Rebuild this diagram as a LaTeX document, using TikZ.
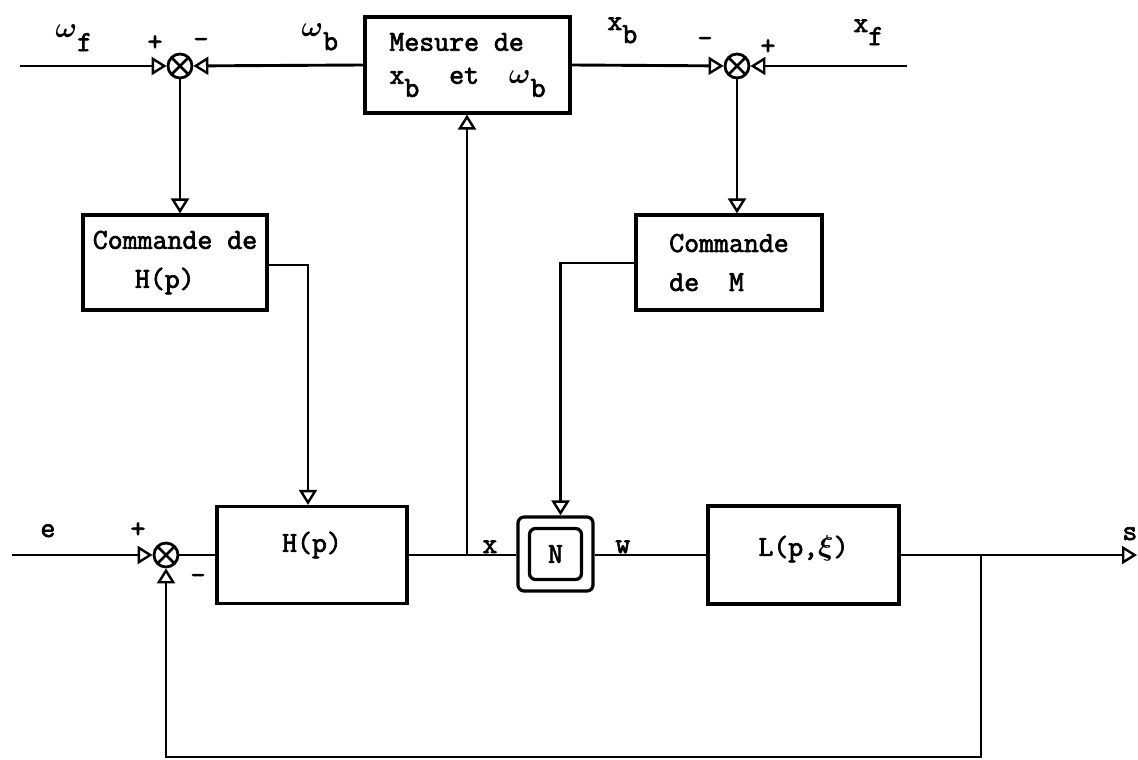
\documentclass[tikz,border=0pt]{standalone}
\usepackage{amsmath}
\usepackage{fontspec}
\newfontfamily\tw{Latin Modern Mono}[FakeBold=2.4]
\usetikzlibrary{arrows.meta,calc}
\newcommand\lo[1]{\raisebox{-0.45em}{#1}}
\newcommand\upby[2]{\raisebox{#1}[\height][\depth]{#2}}
\newcommand\om{\ensuremath{\boldsymbol{\omega}}}
\begin{document}
\begin{tikzpicture}[x=0.5pt,y=-0.5pt,
  font=\fontsize{14.5}{16.5}\selectfont\tw,
  box/.style={draw, line width=1.6pt, inner sep=0pt, align=left},
  ln/.style={line width=1.45pt},
  arr/.style={ln, -{Triangle[open, length=7.5pt, width=9pt, line width=1.2pt]}},
  sumj/.style={circle, draw, line width=1.4pt, minimum size=12pt, inner sep=0pt,
    path picture={\draw[line width=1.3pt]
      (path picture bounding box.south west) -- (path picture bounding box.north east)
      (path picture bounding box.north west) -- (path picture bounding box.south east);}},
  lab/.style={inner sep=0pt, anchor=base west},
  sgn/.style={inner sep=0pt}]
\fill[white] (0,0) rectangle (1138,759);
\useasboundingbox (0,0) rectangle (1138,759);

% top row
\coordinate (wfin) at (20,66);
\coordinate (xfin) at (907,66);
\node[sumj] (sum1) at (180,66) {};
\node[sumj] (sum2) at (737,66) {};
\node[box, minimum width=102.5pt, minimum height=48pt] (mes) at (467.5,65)
  {Mesure de\\x\lo{b}\ \ et\ \ \om\lo{b}};

% command boxes
\node[box, minimum width=92pt, minimum height=47.5pt, font=\fontsize{14.5}{19.5}\selectfont\tw]
  (cmdH) at (175,262.5) {Commande de\\\hspace*{1.45em}H(p)};
\node[box, minimum width=93pt, minimum height=47.5pt, font=\fontsize{14.5}{19.5}\selectfont\tw]
  (cmdM) at (729,262.5) {Commande\\de\ \ M};

% bottom row
\coordinate (ein) at (12,555);
\coordinate (sout) at (1137,555);
\node[sumj] (sum3) at (166,555) {};
\node[box, minimum width=95pt, minimum height=48.5pt] (Hbox) at (312,555) {\upby{5pt}{H(p)}};
\node[box, rounded corners=3pt, minimum width=37.5pt, minimum height=37pt] (Nout) at (555.5,554) {};
\node[box, rounded corners=3pt, minimum width=26pt, minimum height=25.5pt] (Nin) at (555.5,554) {N};
\node[box, minimum width=95.5pt, minimum height=49pt] (Lbox) at (803.5,555) {\upby{3pt}{L(p,$\boldsymbol{\xi}$)}};
\coordinate (jx) at (467,555);
\coordinate (fb) at (981,555);
\coordinate (fbc) at (981,757);

% connectors top
\draw[arr] (wfin) -- (sum1);
\draw[arr] (mes.west) -- (sum1);
\draw[arr] (mes.east) -- (sum2);
\draw[arr] (xfin) -- (sum2);
\draw[arr] (sum1) -- (sum1 |- cmdH.north);
\draw[arr] (sum2) -- (sum2 |- cmdM.north);
\draw[arr] ([yshift=-1.25pt]cmdH.east) -| ([xshift=-2pt]Hbox.north);
\draw[arr] ([yshift=-0.25pt]cmdM.west) -| ([xshift=2.5pt]Nout.north);

% connectors bottom
\draw[arr] (ein) -- (sum3);
\draw[ln] (sum3) -- (Hbox);
\draw[ln] (Hbox.east) -- (Nout.west |- Hbox.east);
\draw[arr] (jx) -- (jx |- mes.south);
\draw[ln] (Nout.east |- Lbox.west) -- (Lbox.west);
\draw[arr] (Lbox) -- (sout);
\draw[arr] (fb) -- (fbc) -| (sum3);

% labels
\node[lab] (lwf) at (55,38) {\om\lo{f}};
\node[sgn] (lp1) at (155,43) {+};
\node[sgn] (lm1) at (201,43) {-};
\node[lab] (lwb) at (301,37) {\om\lo{b}};
\node[lab] (lxb) at (607,30) {x\lo{b}};
\node[sgn] (lm2) at (705,42) {-};
\node[sgn] (lp2) at (768,47) {+};
\node[lab] (lxf) at (853,32) {x\lo{f}};
\node[lab] (le) at (40,537) {e};
\node[sgn] (lp3) at (138,530) {+};
\node[sgn] (lm3) at (198,579) {-};
\node[lab] (lx) at (482,553) {x};
\node[lab] (lw) at (615,553) {w};
\node[lab] (ls) at (1122,540) {s};
\end{tikzpicture}
\end{document}
